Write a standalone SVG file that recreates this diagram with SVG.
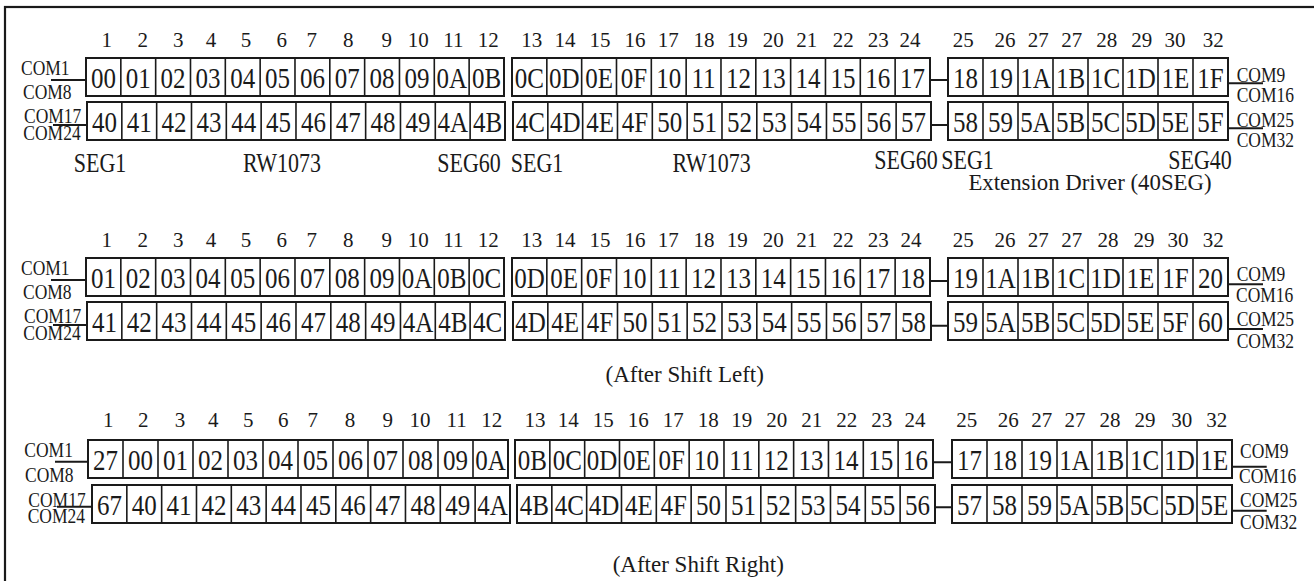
<svg xmlns="http://www.w3.org/2000/svg" xmlns:xlink="http://www.w3.org/1999/xlink" width="1314" height="581" viewBox="0 0 1314 581">
<style>
text{font-family:"Liberation Serif","Times New Roman",serif;fill:#1a1a1a}
.bx{fill:#fff;stroke:#1a1a1a;stroke-width:2}
.dv{fill:none;stroke:#1a1a1a;stroke-width:1.6}
.lb text{font-size:25px;text-anchor:middle}
.num text{font-size:21px;text-anchor:middle}
.com{font-size:17.5px}
.seg{font-size:22px;text-anchor:middle}
.cap{font-size:23px;text-anchor:middle}
.cn{fill:none;stroke:#1a1a1a;stroke-width:2}
</style>
<defs>
<path id="d12" d="M34.83 0v38m34.83-38v38m34.83-38v38m34.83-38v38m34.83-38v38m34.83-38v38m34.83-38v38m34.83-38v38m34.83-38v38m34.83-38v38m34.83-38v38"/>
<path id="d12w" d="M35 0v38m35-38v38m35-38v38m35-38v38m35-38v38m35-38v38m35-38v38m35-38v38m35-38v38m35-38v38m35-38v38"/>
<path id="d8" d="M35 0v38m35-38v38m35-38v38m35-38v38m35-38v38m35-38v38m35-38v38"/>
</defs>
<rect width="1314" height="581" fill="#fff"/>
<rect id="frame" x="5" y="7" width="1330" height="600" fill="none" stroke="#1a1a1a" stroke-width="2.2"/>

<g id="connectors" class="cn">
<path d="M51 80H86M53 125H87M930 80H948M932 125H948M1228 83.3H1263M1228 128.3H1263"/>
<path d="M51 280H86M53 325H87M930 281H948M932 325.7H948M1228 284.3H1263M1228 329H1263"/>
<path d="M55 461.7H88M57 506.7H92M933 462.3H952M935 507.3H952M1232 466.7H1266.7M1232 510.7H1266.7"/>
</g>

<!-- Section 1 -->
<g id="s1-numbers" class="num">
<text x="106.7" y="46.7">1</text><text x="142.7" y="46.7">2</text><text x="178.3" y="46.7">3</text><text x="211" y="46.7">4</text><text x="246" y="46.7">5</text><text x="281.7" y="46.7">6</text><text x="311.7" y="46.7">7</text><text x="348.3" y="46.7">8</text><text x="386.7" y="46.7">9</text><text x="418.3" y="46.7">10</text><text x="453.3" y="46.7">11</text><text x="488.3" y="46.7">12</text><text x="531.7" y="46.7">13</text><text x="565" y="46.7">14</text><text x="600" y="46.7">15</text><text x="635" y="46.7">16</text><text x="668.3" y="46.7">17</text><text x="704" y="46.7">18</text><text x="737.3" y="46.7">19</text><text x="773.3" y="46.7">20</text><text x="806.7" y="46.7">21</text><text x="843.3" y="46.7">22</text><text x="878.3" y="46.7">23</text><text x="910" y="46.7">24</text><text x="963.3" y="46.7">25</text><text x="1005" y="46.7">26</text><text x="1038.3" y="46.7">27</text><text x="1071.7" y="46.7">27</text><text x="1106.7" y="46.7">28</text><text x="1141.7" y="46.7">29</text><text x="1175" y="46.7">30</text><text x="1213.3" y="46.7">32</text>
</g>
<g id="s1-com">
<text class="com" transform="translate(21,75) scale(1,1.15)">COM1</text>
<text class="com" transform="translate(23,99.3) scale(1,1.15)">COM8</text>
<text class="com" transform="translate(24,123.3) scale(1,1.15)">COM17</text>
<text class="com" transform="translate(23.3,140) scale(1,1.15)">COM24</text>
<text class="com" transform="translate(1236.7,81.7) scale(1,1.15)">COM9</text>
<text class="com" transform="translate(1236.7,101.7) scale(1,1.15)">COM16</text>
<text class="com" transform="translate(1236.7,126.7) scale(1,1.15)">COM25</text>
<text class="com" transform="translate(1236.7,146.7) scale(1,1.15)">COM32</text>
</g>
<g id="s1-r1-a" transform="translate(86,58)"><rect class="bx" width="418" height="38"/><use href="#d12" class="dv"/>
<g class="lb" transform="translate(0,30) scale(1,1.2)"><text x="17.42">00</text><text x="52.25">01</text><text x="87.08">02</text><text x="121.92">03</text><text x="156.75">04</text><text x="191.58">05</text><text x="226.42">06</text><text x="261.25">07</text><text x="296.08">08</text><text x="330.92">09</text><text x="365.75">0A</text><text x="400.58">0B</text></g></g>
<g id="s1-r1-b" transform="translate(512,58)"><rect class="bx" width="418" height="38"/><use href="#d12" class="dv"/>
<g class="lb" transform="translate(0,30) scale(1,1.2)"><text x="17.42">0C</text><text x="52.25">0D</text><text x="87.08">0E</text><text x="121.92">0F</text><text x="156.75">10</text><text x="191.58">11</text><text x="226.42">12</text><text x="261.25">13</text><text x="296.08">14</text><text x="330.92">15</text><text x="365.75">16</text><text x="400.58">17</text></g></g>
<g id="s1-r1-c" transform="translate(948,58)"><rect class="bx" width="280" height="38"/><use href="#d8" class="dv"/>
<g class="lb" transform="translate(0,30) scale(1,1.2)"><text x="17.5">18</text><text x="52.5">19</text><text x="87.5">1A</text><text x="122.5">1B</text><text x="157.5">1C</text><text x="192.5">1D</text><text x="227.5">1E</text><text x="262.5">1F</text></g></g>
<g id="s1-r2-a" transform="translate(87,102)"><rect class="bx" width="418" height="38"/><use href="#d12" class="dv"/>
<g class="lb" transform="translate(0,30) scale(1,1.2)"><text x="17.42">40</text><text x="52.25">41</text><text x="87.08">42</text><text x="121.92">43</text><text x="156.75">44</text><text x="191.58">45</text><text x="226.42">46</text><text x="261.25">47</text><text x="296.08">48</text><text x="330.92">49</text><text x="365.75">4A</text><text x="400.58">4B</text></g></g>
<g id="s1-r2-b" transform="translate(513,102)"><rect class="bx" width="418" height="38"/><use href="#d12" class="dv"/>
<g class="lb" transform="translate(0,30) scale(1,1.2)"><text x="17.42">4C</text><text x="52.25">4D</text><text x="87.08">4E</text><text x="121.92">4F</text><text x="156.75">50</text><text x="191.58">51</text><text x="226.42">52</text><text x="261.25">53</text><text x="296.08">54</text><text x="330.92">55</text><text x="365.75">56</text><text x="400.58">57</text></g></g>
<g id="s1-r2-c" transform="translate(948,102)"><rect class="bx" width="280" height="38"/><use href="#d8" class="dv"/>
<g class="lb" transform="translate(0,30) scale(1,1.2)"><text x="17.5">58</text><text x="52.5">59</text><text x="87.5">5A</text><text x="122.5">5B</text><text x="157.5">5C</text><text x="192.5">5D</text><text x="227.5">5E</text><text x="262.5">5F</text></g></g>
<g id="s1-seg">
<text class="seg" transform="translate(100,171.5) scale(1,1.2)">SEG1</text>
<text class="seg" transform="translate(282,171.5) scale(1,1.2)">RW1073</text>
<text class="seg" transform="translate(469,171.5) scale(1,1.2)">SEG60</text>
<text class="seg" transform="translate(537,171.5) scale(1,1.2)">SEG1</text>
<text class="seg" transform="translate(711.7,171.5) scale(1,1.2)">RW1073</text>
<text class="seg" transform="translate(906,168.5) scale(1,1.2)">SEG60</text>
<text class="seg" transform="translate(967.5,168.5) scale(1,1.2)">SEG1</text>
<text class="seg" transform="translate(1200,168.5) scale(1,1.2)">SEG40</text>
<text class="cap" x="1090" y="189.5" style="font-size:22.8px">Extension Driver (40SEG)</text>
</g>

<!-- Section 2 -->
<g id="s2-numbers" class="num">
<text x="106.7" y="246.7">1</text><text x="142.7" y="246.7">2</text><text x="178.3" y="246.7">3</text><text x="211" y="246.7">4</text><text x="246" y="246.7">5</text><text x="281.7" y="246.7">6</text><text x="311.7" y="246.7">7</text><text x="348.3" y="246.7">8</text><text x="386.7" y="246.7">9</text><text x="418.3" y="246.7">10</text><text x="453.3" y="246.7">11</text><text x="488.3" y="246.7">12</text><text x="531.7" y="246.7">13</text><text x="565" y="246.7">14</text><text x="600" y="246.7">15</text><text x="635" y="246.7">16</text><text x="668.3" y="246.7">17</text><text x="704" y="246.7">18</text><text x="737.3" y="246.7">19</text><text x="773.3" y="246.7">20</text><text x="806.7" y="246.7">21</text><text x="843.3" y="246.7">22</text><text x="878.3" y="246.7">23</text><text x="911" y="246.7">24</text><text x="963.3" y="246.7">25</text><text x="1005" y="246.7">26</text><text x="1038.3" y="246.7">27</text><text x="1071.7" y="246.7">27</text><text x="1108" y="246.7">28</text><text x="1144" y="246.7">29</text><text x="1178" y="246.7">30</text><text x="1213.3" y="246.7">32</text>
</g>
<g id="s2-com">
<text class="com" transform="translate(21,275) scale(1,1.15)">COM1</text>
<text class="com" transform="translate(23,299) scale(1,1.15)">COM8</text>
<text class="com" transform="translate(24,323.3) scale(1,1.15)">COM17</text>
<text class="com" transform="translate(23.3,340) scale(1,1.15)">COM24</text>
<text class="com" transform="translate(1236.7,281) scale(1,1.15)">COM9</text>
<text class="com" transform="translate(1236,301.7) scale(1,1.15)">COM16</text>
<text class="com" transform="translate(1236.7,326) scale(1,1.15)">COM25</text>
<text class="com" transform="translate(1236.7,347.7) scale(1,1.15)">COM32</text>
</g>
<g id="s2-r1-a" transform="translate(86,258)"><rect class="bx" width="418" height="38"/><use href="#d12" class="dv"/>
<g class="lb" transform="translate(0,30) scale(1,1.2)"><text x="17.42">01</text><text x="52.25">02</text><text x="87.08">03</text><text x="121.92">04</text><text x="156.75">05</text><text x="191.58">06</text><text x="226.42">07</text><text x="261.25">08</text><text x="296.08">09</text><text x="330.92">0A</text><text x="365.75">0B</text><text x="400.58">0C</text></g></g>
<g id="s2-r1-b" transform="translate(512,258)"><rect class="bx" width="418" height="38"/><use href="#d12" class="dv"/>
<g class="lb" transform="translate(0,30) scale(1,1.2)"><text x="17.42">0D</text><text x="52.25">0E</text><text x="87.08">0F</text><text x="121.92">10</text><text x="156.75">11</text><text x="191.58">12</text><text x="226.42">13</text><text x="261.25">14</text><text x="296.08">15</text><text x="330.92">16</text><text x="365.75">17</text><text x="400.58">18</text></g></g>
<g id="s2-r1-c" transform="translate(948,258)"><rect class="bx" width="280" height="38"/><use href="#d8" class="dv"/>
<g class="lb" transform="translate(0,30) scale(1,1.2)"><text x="17.5">19</text><text x="52.5">1A</text><text x="87.5">1B</text><text x="122.5">1C</text><text x="157.5">1D</text><text x="192.5">1E</text><text x="227.5">1F</text><text x="262.5">20</text></g></g>
<g id="s2-r2-a" transform="translate(87,302)"><rect class="bx" width="418" height="38"/><use href="#d12" class="dv"/>
<g class="lb" transform="translate(0,30) scale(1,1.2)"><text x="17.42">41</text><text x="52.25">42</text><text x="87.08">43</text><text x="121.92">44</text><text x="156.75">45</text><text x="191.58">46</text><text x="226.42">47</text><text x="261.25">48</text><text x="296.08">49</text><text x="330.92">4A</text><text x="365.75">4B</text><text x="400.58">4C</text></g></g>
<g id="s2-r2-b" transform="translate(513,302)"><rect class="bx" width="418" height="38"/><use href="#d12" class="dv"/>
<g class="lb" transform="translate(0,30) scale(1,1.2)"><text x="17.42">4D</text><text x="52.25">4E</text><text x="87.08">4F</text><text x="121.92">50</text><text x="156.75">51</text><text x="191.58">52</text><text x="226.42">53</text><text x="261.25">54</text><text x="296.08">55</text><text x="330.92">56</text><text x="365.75">57</text><text x="400.58">58</text></g></g>
<g id="s2-r2-c" transform="translate(948,302)"><rect class="bx" width="280" height="38"/><use href="#d8" class="dv"/>
<g class="lb" transform="translate(0,30) scale(1,1.2)"><text x="17.5">59</text><text x="52.5">5A</text><text x="87.5">5B</text><text x="122.5">5C</text><text x="157.5">5D</text><text x="192.5">5E</text><text x="227.5">5F</text><text x="262.5">60</text></g></g>
<text id="s2-caption" class="cap" x="684.7" y="381.5">(After Shift Left)</text>

<!-- Section 3 -->
<g id="s3-numbers" class="num">
<text x="108.3" y="427">1</text><text x="143.3" y="427">2</text><text x="180" y="427">3</text><text x="213.3" y="427">4</text><text x="248.3" y="427">5</text><text x="283.3" y="427">6</text><text x="312.7" y="427">7</text><text x="350" y="427">8</text><text x="387.7" y="427">9</text><text x="420" y="427">10</text><text x="456.7" y="427">11</text><text x="491.7" y="427">12</text><text x="535" y="427">13</text><text x="568.3" y="427">14</text><text x="603.3" y="427">15</text><text x="638.3" y="427">16</text><text x="673.3" y="427">17</text><text x="708.3" y="427">18</text><text x="741.7" y="427">19</text><text x="776.7" y="427">20</text><text x="811.7" y="427">21</text><text x="846.7" y="427">22</text><text x="881.7" y="427">23</text><text x="915" y="427">24</text><text x="966.7" y="427">25</text><text x="1008.3" y="427">26</text><text x="1041.7" y="427">27</text><text x="1075" y="427">27</text><text x="1110" y="427">28</text><text x="1145" y="427">29</text><text x="1181.7" y="427">30</text><text x="1216.7" y="427">32</text>
</g>
<g id="s3-com">
<text class="com" transform="translate(24.3,457.3) scale(1,1.15)">COM1</text>
<text class="com" transform="translate(25,482.3) scale(1,1.15)">COM8</text>
<text class="com" transform="translate(28.3,506.7) scale(1,1.15)">COM17</text>
<text class="com" transform="translate(27.7,522.7) scale(1,1.15)">COM24</text>
<text class="com" transform="translate(1240,458.3) scale(1,1.15)">COM9</text>
<text class="com" transform="translate(1239,483.3) scale(1,1.15)">COM16</text>
<text class="com" transform="translate(1240,506.7) scale(1,1.15)">COM25</text>
<text class="com" transform="translate(1240,529.3) scale(1,1.15)">COM32</text>
</g>
<g id="s3-r1-a" transform="translate(88,440)"><rect class="bx" width="420" height="38"/><use href="#d12w" class="dv"/>
<g class="lb" transform="translate(0,30) scale(1,1.2)"><text x="17.5">27</text><text x="52.5">00</text><text x="87.5">01</text><text x="122.5">02</text><text x="157.5">03</text><text x="192.5">04</text><text x="227.5">05</text><text x="262.5">06</text><text x="297.5">07</text><text x="332.5">08</text><text x="367.5">09</text><text x="402.5">0A</text></g></g>
<g id="s3-r1-b" transform="translate(515,440)"><rect class="bx" width="418" height="38"/><use href="#d12" class="dv"/>
<g class="lb" transform="translate(0,30) scale(1,1.2)"><text x="17.42">0B</text><text x="52.25">0C</text><text x="87.08">0D</text><text x="121.92">0E</text><text x="156.75">0F</text><text x="191.58">10</text><text x="226.42">11</text><text x="261.25">12</text><text x="296.08">13</text><text x="330.92">14</text><text x="365.75">15</text><text x="400.58">16</text></g></g>
<g id="s3-r1-c" transform="translate(952,440)"><rect class="bx" width="280" height="38"/><use href="#d8" class="dv"/>
<g class="lb" transform="translate(0,30) scale(1,1.2)"><text x="17.5">17</text><text x="52.5">18</text><text x="87.5">19</text><text x="122.5">1A</text><text x="157.5">1B</text><text x="192.5">1C</text><text x="227.5">1D</text><text x="262.5">1E</text></g></g>
<g id="s3-r2-a" transform="translate(92,485)"><rect class="bx" width="418" height="38"/><use href="#d12" class="dv"/>
<g class="lb" transform="translate(0,30) scale(1,1.2)"><text x="17.42">67</text><text x="52.25">40</text><text x="87.08">41</text><text x="121.92">42</text><text x="156.75">43</text><text x="191.58">44</text><text x="226.42">45</text><text x="261.25">46</text><text x="296.08">47</text><text x="330.92">48</text><text x="365.75">49</text><text x="400.58">4A</text></g></g>
<g id="s3-r2-b" transform="translate(517,485)"><rect class="bx" width="418" height="38"/><use href="#d12" class="dv"/>
<g class="lb" transform="translate(0,30) scale(1,1.2)"><text x="17.42">4B</text><text x="52.25">4C</text><text x="87.08">4D</text><text x="121.92">4E</text><text x="156.75">4F</text><text x="191.58">50</text><text x="226.42">51</text><text x="261.25">52</text><text x="296.08">53</text><text x="330.92">54</text><text x="365.75">55</text><text x="400.58">56</text></g></g>
<g id="s3-r2-c" transform="translate(952,485)"><rect class="bx" width="280" height="38"/><use href="#d8" class="dv"/>
<g class="lb" transform="translate(0,30) scale(1,1.2)"><text x="17.5">57</text><text x="52.5">58</text><text x="87.5">59</text><text x="122.5">5A</text><text x="157.5">5B</text><text x="192.5">5C</text><text x="227.5">5D</text><text x="262.5">5E</text></g></g>
<text id="s3-caption" class="cap" x="698.3" y="571.7">(After Shift Right)</text>
</svg>
